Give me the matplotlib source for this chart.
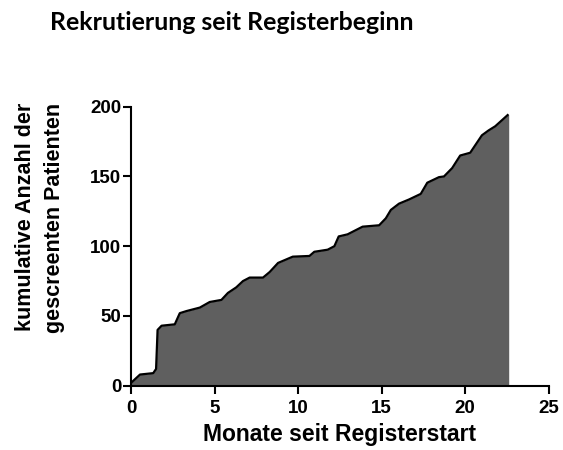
import matplotlib

matplotlib.use("Agg")

import matplotlib.pyplot as plt  # noqa: E402

# cumulative number of screened patients
months = [0.0, 0.54, 1.33, 1.5, 1.59, 1.83, 2.62, 2.92, 3.32, 4.12, 4.71, 5.41,
          5.8, 6.3, 6.7, 7.1, 7.9, 8.3, 8.8, 9.68, 10.68, 10.97, 11.77, 12.17,
          12.43, 12.96, 13.86, 14.85, 15.25, 15.55, 16.04, 16.64, 17.34, 17.73,
          18.43, 18.73, 19.22, 19.7, 20.3, 21.0, 21.4, 21.8, 22.54]
patients = [2, 8, 9, 12, 40, 43, 44, 52, 53.5, 56, 60, 61.5,
            66.5, 70.5, 75, 77.5, 77.5, 81.5, 88, 92.5, 93, 96, 97.5, 100,
            107, 108.5, 114, 115, 120, 126, 130.5, 133.5, 137.5, 145.5,
            149.5, 150, 156, 165, 167, 179.5, 183, 186, 194]

x_ticks = [0, 5, 10, 15, 20, 25]
y_ticks = [0, 50, 100, 150, 200]

TITLE = "Rekrutierung seit Registerbeginn"
X_LABEL = "Monate seit Registerstart"
Y_LABEL = "kumulative Anzahl der\ngescreenten Patienten"

plt.rcParams["font.family"] = ["Liberation Sans", "DejaVu Sans"]

fig = plt.figure(figsize=(5.63, 4.5), dpi=100)
ax = fig.add_axes([0.2327, 0.1429, 0.742, 0.62])

ax.fill_between(months, patients, 0, color="#5f5f5f", linewidth=0, zorder=2)
ax.plot(months, patients, color="black", linewidth=1.6, zorder=3)
ax.vlines(months[-1], 0, patients[-1], color="#5f5f5f", linewidth=1, zorder=2)

ax.set_xlim(0, 25)
ax.set_ylim(0, 200)
ax.set_xticks(x_ticks)
ax.set_yticks(y_ticks)
for side in ("top", "right"):
    ax.spines[side].set_visible(False)
for side in ("left", "bottom"):
    ax.spines[side].set_linewidth(1.5)
    ax.spines[side].set_zorder(4)
ax.tick_params(direction="out", length=5.5, width=1.5, labelsize=13.5)
ax.tick_params(axis="x", pad=5)
ax.tick_params(axis="y", pad=1.5)
for lbl in ax.get_xticklabels() + ax.get_yticklabels():
    lbl.set_fontweight("bold")

ax.set_xlabel(X_LABEL, fontsize=16.5, fontweight="bold", labelpad=4)

# y label: two lines, ends aligned at the top like the reference
fig.text(40 / 563, 1 - 103 / 450, Y_LABEL, rotation=90, fontsize=15.5,
         fontweight="bold", ha="center", va="top", multialignment="right",
         linespacing=1.45)

fig.text(50 / 563, 1 - 30 / 450, TITLE, fontsize=17.9, fontweight="bold",
         family=["Lato", "DejaVu Sans"], ha="left", va="baseline")

fig.savefig("out.png", dpi=100)
plt.close(fig)
